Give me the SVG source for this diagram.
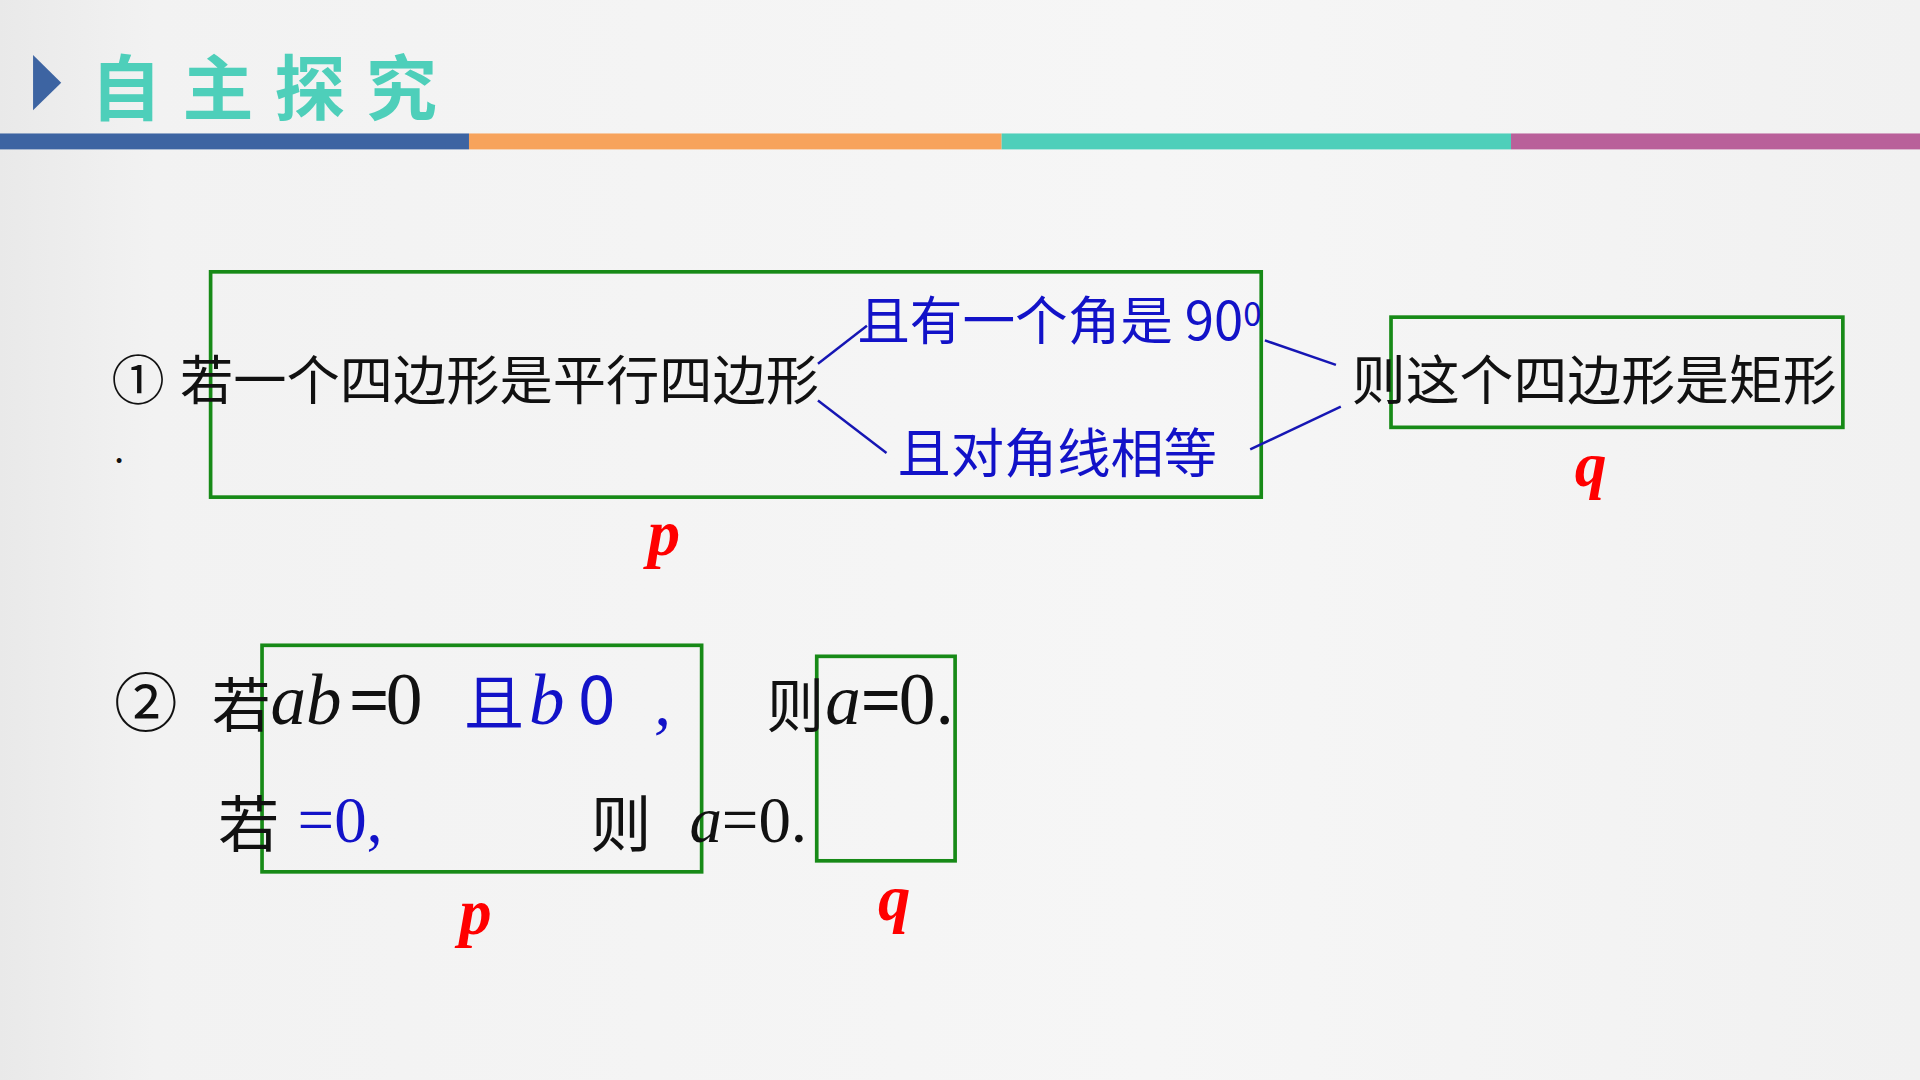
<svg xmlns="http://www.w3.org/2000/svg" width="1920" height="1080" viewBox="0 0 1920 1080">
<defs>
<linearGradient id="bg" x1="0" y1="0" x2="1" y2="0">
<stop offset="0" stop-color="#e9e9e9"/>
<stop offset="0.08" stop-color="#f2f2f2"/>
<stop offset="0.6" stop-color="#f6f6f6"/>
<stop offset="1" stop-color="#f1f1f1"/>
</linearGradient>
</defs>
<style>
.cjk{font-family:"Noto Sans CJK SC","Noto Sans",sans-serif;}
.ser{font-family:"Liberation Serif","Times New Roman",serif;}
.blk{fill:#111111;}
.blu{fill:#1212c8;}
.red{fill:#ff0000;font-weight:bold;font-style:italic;}
.it{font-style:italic;}
.box{fill:none;stroke:#178a17;stroke-width:3;}
.con{stroke:#1616b4;stroke-width:2;fill:none;}
</style>
<rect width="1920" height="1080" fill="url(#bg)"/>
<g transform="scale(1.22449)">
<g id="header">
<polygon points="27,45 50,67.5 27,90" fill="#3d64a2"/>
<text x="74" y="93" class="cjk" font-size="58" font-weight="bold" fill="#4ecfba" letter-spacing="17">自主探究</text>
<rect x="0" y="109" width="383" height="13" fill="#3d64a2"/>
<rect x="383" y="109" width="435" height="13" fill="#f7a35c"/>
<rect x="818" y="109" width="416" height="13" fill="#4ecfba"/>
<rect x="1234" y="109" width="334" height="13" fill="#b9609a"/>
</g>
<g id="p1-box">
<rect class="box" x="172" y="222" width="858" height="184"/>
</g>
<g id="q1-box">
<rect class="box" x="1136" y="259" width="369" height="90"/>
</g>
<g id="statement1">
<text x="91" y="327" class="cjk blk" font-size="43.5">①</text>
<text x="147" y="327" class="cjk blk" font-size="43.5">若一个四边形是平行四边形</text>
<text x="93" y="378" class="cjk blk" font-size="30">.</text>
</g>
<g id="cond1a">
<text x="700" y="278" class="cjk blu" font-size="43">且有一个角是 90<tspan font-size="27" dy="-12">0</tspan></text>
</g>
<g id="cond1b">
<text x="733" y="386" class="cjk blu" font-size="43.5">且对角线相等</text>
</g>
<g id="concl1">
<text x="1104" y="327" class="cjk blk" font-size="44">则这个四边形是矩形</text>
</g>
<g id="label-p1"><text x="529" y="453" class="ser red" font-size="53">p</text></g>
<g id="label-q1"><text x="1286" y="397" class="ser red" font-size="52">q</text></g>
<g id="connectors">
<line class="con" x1="668" y1="297" x2="708" y2="266"/>
<line class="con" x1="668" y1="327" x2="724" y2="370"/>
<line class="con" x1="1033" y1="278" x2="1091" y2="298"/>
<line class="con" x1="1021" y1="367" x2="1095" y2="332"/>
</g>
<g id="p2-box">
<rect class="box" x="214" y="527" width="359" height="185"/>
</g>
<g id="q2-box">
<rect class="box" x="667" y="536" width="113" height="167"/>
</g>
<g id="statement2">
<text x="93" y="593" class="cjk blk" font-size="52">②</text>
<text x="173" y="594" class="cjk blk" font-size="48">若</text>
<text x="221" y="591" class="ser blk" font-size="58"><tspan font-style="italic">ab</tspan><tspan dx="6" font-weight="bold">=</tspan><tspan dx="-3" font-size="60">0</tspan></text>
<text x="379" y="592" class="cjk blu" font-size="49">且</text>
<text x="432" y="591" class="ser blu it" font-size="58">b</text>
<text x="472" y="591" class="cjk blu" font-size="55">0</text>
<text x="534" y="592" class="ser blu it" font-size="56">,</text>
<text x="626" y="594" class="cjk blk" font-size="47">则</text>
<text x="674" y="591" class="ser blk" font-size="58"><tspan font-style="italic">a</tspan><tspan font-weight="bold">=</tspan><tspan dx="-2" font-size="60">0.</tspan></text>
</g>
<g id="statement3">
<text x="178" y="692" class="cjk blk" font-size="50">若</text>
<text x="243" y="688" class="ser blu" font-size="53">=0,</text>
<text x="482" y="692" class="cjk blk" font-size="50">则</text>
<text x="563" y="688" class="ser blk" font-size="53"><tspan font-style="italic">a</tspan>=0.</text>
</g>
<g id="label-p2"><text x="375" y="763" class="ser red" font-size="53">p</text></g>
<g id="label-q2"><text x="717" y="751" class="ser red" font-size="53">q</text></g>
</g>
</svg>
